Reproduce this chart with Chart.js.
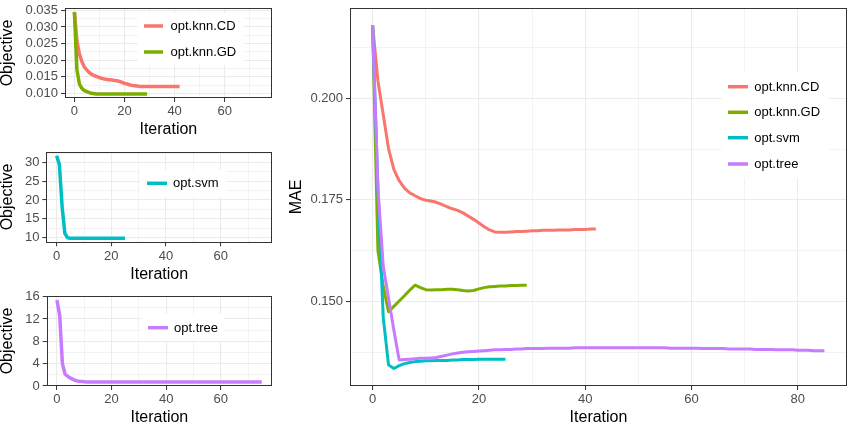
<!DOCTYPE html>
<html>
<head>
<meta charset="utf-8">
<script src="https://cdn.jsdelivr.net/npm/chart.js@4.4.1/dist/chart.umd.min.js"></script>
<style>
  body { margin: 0; width: 854px; height: 424px; overflow: hidden; background: #fff; position: relative; }
  canvas { position: absolute; }
</style>
</head>
<body>
<canvas id="knnObj" width="280" height="140" style="left:0;top:0"></canvas>
<canvas id="svmObj" width="280" height="145" style="left:0;top:140px"></canvas>
<canvas id="treeObj" width="280" height="143" style="left:0;top:285px"></canvas>
<canvas id="maeChart" width="570" height="428" style="left:284px;top:0"></canvas>
<script>
// series names + colours (ggplot default hues)
let names = ['opt.knn.CD', 'opt.knn.GD', 'opt.svm', 'opt.tree'];
let colors = ['#F8766D', '#7CAE00', '#00BFC4', '#C77CFF'];

// objective per iteration (left panels), index = iteration
let knnCDObj = [0.0345, 0.0258, 0.0218, 0.0195, 0.0179, 0.0170, 0.0162, 0.0157, 0.0153, 0.0150,
    0.0147, 0.0145, 0.0143, 0.0142, 0.0141, 0.0140, 0.0139, 0.0138, 0.0136, 0.0133,
    0.0130, 0.0128, 0.0126, 0.0124, 0.0123, 0.0122, 0.0121, 0.0121, 0.0121, 0.0121,
    0.0121, 0.0121, 0.0121, 0.0121, 0.0121, 0.0121, 0.0121, 0.0121, 0.0121, 0.0121,
    0.0121, 0.0121, 0.0121];
let knnGDObj = [0.0345, 0.0172, 0.0128, 0.0115, 0.0108, 0.0105, 0.0102, 0.0100, 0.0099, 0.0098,
    0.0098, 0.0098, 0.0098, 0.0098, 0.0098, 0.0098, 0.0098, 0.0098, 0.0098, 0.0098,
    0.0098, 0.0098, 0.0098, 0.0098, 0.0098, 0.0098, 0.0098, 0.0098, 0.0098, 0.0098];
let svmObj = [31.8, 29.4, 18.2, 11.1, 9.9, 9.8, 9.75, 9.75, 9.75, 9.75,
    9.75, 9.75, 9.75, 9.75, 9.75, 9.75, 9.75, 9.75, 9.75, 9.75,
    9.75, 9.75, 9.75, 9.75, 9.75, 9.75];
let treeObj = [15.4, 12.7, 4.0, 2.1, 1.7, 1.4, 1.15, 0.95, 0.85, 0.8,
    0.75, 0.72, 0.72, 0.72, 0.72, 0.72, 0.72, 0.72, 0.72, 0.72,
    0.72, 0.72, 0.72, 0.72, 0.72, 0.72, 0.72, 0.72, 0.72, 0.72,
    0.72, 0.72, 0.72, 0.72, 0.72, 0.72, 0.72, 0.72, 0.72, 0.72,
    0.72, 0.72, 0.72, 0.72, 0.72, 0.72, 0.72, 0.72, 0.72, 0.72,
    0.72, 0.72, 0.72, 0.72, 0.72, 0.72, 0.72, 0.72, 0.72, 0.72,
    0.72, 0.72, 0.72, 0.72, 0.72, 0.72, 0.72, 0.72, 0.72, 0.72,
    0.72, 0.72, 0.72, 0.72, 0.72, 0.72];

// MAE per iteration (right panel)
let knnCDMae = [0.2180, 0.2043, 0.1960, 0.1876, 0.1825, 0.1797, 0.1779, 0.1767, 0.1760, 0.1753,
    0.1749, 0.1747, 0.1744, 0.1739, 0.1733, 0.1728, 0.1724, 0.1718, 0.1710, 0.1702,
    0.1693, 0.1684, 0.1676, 0.1671, 0.1670, 0.1670, 0.1671, 0.1672, 0.1672, 0.1673,
    0.1674, 0.1674, 0.1675, 0.1675, 0.1675, 0.1676, 0.1676, 0.1676, 0.1677, 0.1677,
    0.1677, 0.1678, 0.1678];
let knnGDMae = [0.2180, 0.1626, 0.1537, 0.1475, 0.1488, 0.1501, 0.1514, 0.1528, 0.1540, 0.1534,
    0.1529, 0.1528, 0.1529, 0.1529, 0.1530, 0.1530, 0.1529, 0.1527, 0.1526, 0.1527,
    0.1531, 0.1534, 0.1536, 0.1537, 0.1538, 0.1538, 0.1539, 0.1539, 0.1540, 0.1540];
let svmMae = [0.2180, 0.1780, 0.1461, 0.1344, 0.1335, 0.1342, 0.1347, 0.1350, 0.1352, 0.1353,
    0.1354, 0.1354, 0.1355, 0.1355, 0.1355, 0.1356, 0.1356, 0.1357, 0.1357, 0.1357,
    0.1358, 0.1358, 0.1358, 0.1358, 0.1358, 0.1358];
let treeMae = [0.2180, 0.1780, 0.1587, 0.1508, 0.1430, 0.1356, 0.1357, 0.1358, 0.1359, 0.1360,
    0.1360, 0.1361, 0.1362, 0.1365, 0.1368, 0.1371, 0.1373, 0.1375, 0.1376, 0.1377,
    0.1378, 0.1379, 0.1380, 0.1381, 0.1381, 0.1382, 0.1382, 0.1383, 0.1383, 0.1384,
    0.1384, 0.1384, 0.1384, 0.1385, 0.1385, 0.1385, 0.1385, 0.1385, 0.1386, 0.1386,
    0.1386, 0.1386, 0.1386, 0.1386, 0.1386, 0.1386, 0.1386, 0.1386, 0.1386, 0.1386,
    0.1386, 0.1386, 0.1386, 0.1386, 0.1386, 0.1386, 0.1385, 0.1385, 0.1385, 0.1385,
    0.1385, 0.1385, 0.1384, 0.1384, 0.1384, 0.1384, 0.1384, 0.1383, 0.1383, 0.1383,
    0.1383, 0.1383, 0.1382, 0.1382, 0.1382, 0.1382, 0.1381, 0.1381, 0.1381, 0.1381,
    0.1380, 0.1380, 0.1380, 0.1379, 0.1379, 0.1379];

// tick values (major = labelled, minor = grid only)
let smallXMajor = [0, 20, 40, 60];
let bigXMajor = [0, 20, 40, 60, 80];
let xMinor = [10, 30, 50, 70];
let knnYMajor = [0.010, 0.015, 0.020, 0.025, 0.030, 0.035];
let knnYMinor = [0.0125, 0.0175, 0.0225, 0.0275, 0.0325];
let svmYMajor = [10, 15, 20, 25, 30];
let svmYMinor = [12.5, 17.5, 22.5, 27.5, 32.5];
let treeYMajor = [0, 4, 8, 12, 16];
let treeYMinor = [2, 6, 10, 14];
let maeYMajor = [0.150, 0.175, 0.200];
let maeYMinor = [0.1375, 0.1625, 0.1875, 0.2125];

const family = '"Liberation Sans", Arial, sans-serif';

function tickList(majors, minors) {
    let t = majors.map(v => ({value: v}));
    minors.forEach(v => t.push({value: v, minor: true}));
    t.sort((a, b) => a.value - b.value);
    return t;
}

function makeScale(o) {
    return {
        type: 'linear',
        min: o.min,
        max: o.max,
        afterBuildTicks: a => { a.ticks = tickList(o.majors, o.minors); },
        afterFit: a => {
            if (o.isY) a.width = o.size; else a.height = o.size;
            a.paddingTop = a.paddingBottom = a.paddingLeft = a.paddingRight = 0;
        },
        grid: {
            color: '#ebebeb',
            lineWidth: c => (c.tick && c.tick.minor) ? 0.6 : 1.1,
            drawTicks: true,
            tickLength: 4,
            tickWidth: 1,
            tickColor: c => (c.tick && c.tick.minor) ? 'rgba(0,0,0,0)' : '#333333'
        },
        border: {display: false},
        ticks: {
            autoSkip: false,
            maxRotation: 0,
            padding: o.isY ? 3 : 2,
            color: '#4d4d4d',
            font: {family: family, size: 13},
            callback: (v, i, t) => t[i].minor ? '' : o.fmt(v)
        },
        title: {
            display: true,
            text: o.title,
            color: '#000',
            font: {family: family, size: 16, lineHeight: o.isY ? 1 : 1.2},
            padding: o.isY ? {top: o.titlePad || 0, bottom: 0} : {top: 0, bottom: 1}
        }
    };
}

// panel border + legend drawn inside the panel
const panelPlugin = {
    id: 'panelBox',
    beforeDatasetsDraw(chart, args, opts) {
        let lg = opts.legend;
        let ctx = chart.ctx;
        ctx.save();
        ctx.fillStyle = '#ffffff';
        ctx.fillRect(lg.box[0], lg.box[1], lg.box[2], lg.box[3]);
        ctx.font = '13px ' + family;
        ctx.textBaseline = 'middle';
        ctx.textAlign = 'left';
        chart.data.datasets.forEach((ds, i) => {
            let y = lg.rows[i];
            ctx.strokeStyle = ds.borderColor;
            ctx.lineWidth = 3.5;
            ctx.beginPath();
            ctx.moveTo(lg.key[0], y);
            ctx.lineTo(lg.key[1], y);
            ctx.stroke();
            ctx.fillStyle = '#000';
            ctx.fillText(ds.label, lg.textX, y + 0.5);
        });
        ctx.restore();
    },
    afterDraw(chart) {
        let a = chart.chartArea;
        let ctx = chart.ctx;
        ctx.save();
        ctx.strokeStyle = '#333333';
        ctx.lineWidth = 1;
        ctx.strokeRect(Math.round(a.left) + 0.5, Math.round(a.top) + 0.5,
            Math.round(a.right - a.left) - 1, Math.round(a.bottom - a.top) - 1);
        ctx.restore();
    }
};

function series(vals, idx, width) {
    return {
        label: names[idx],
        data: vals.map((v, i) => ({x: i, y: v})),
        borderColor: colors[idx],
        borderWidth: width,
        order: 10 - idx
    };
}

function makeChart(id, datasets, pad, xScale, yScale, legend) {
    return new Chart(document.getElementById(id), {
        type: 'line',
        data: {datasets: datasets},
        options: {
            responsive: false,
            animation: false,
            devicePixelRatio: 1,
            layout: {padding: {left: 0, bottom: 0, top: pad.top, right: pad.right}},
            elements: {point: {radius: 0}, line: {tension: 0, borderJoinStyle: 'round'}},
            plugins: {legend: {display: false}, tooltip: {enabled: false}, panelBox: {legend: legend}},
            scales: {x: xScale, y: yScale}
        },
        plugins: [panelPlugin]
    });
}

let fmt3 = v => v.toFixed(3);
let fmtInt = v => String(v);

// knn objective
makeChart('knnObj',
    [series(knnCDObj, 0, 3.5), series(knnGDObj, 1, 3.5)],
    {top: 8, right: 8.3},
    makeScale({min: -3.75, max: 78.75, majors: smallXMajor, minors: xMinor, fmt: fmtInt, title: 'Iteration', size: 42}),
    makeScale({isY: true, min: 0.0086, max: 0.0357, majors: knnYMajor, minors: knnYMinor, fmt: fmt3, title: 'Objective', size: 65}),
    {box: [138, 13, 106, 52], key: [144, 163], textX: 170.5, rows: [26, 52]}
);

// svm objective
makeChart('svmObj',
    [series(svmObj, 2, 3.5)],
    {top: 11.7, right: 8},
    makeScale({min: -3.75, max: 78.75, majors: smallXMajor, minors: xMinor, fmt: fmtInt, title: 'Iteration', size: 42.7}),
    makeScale({isY: true, min: 8.7, max: 32.9, majors: svmYMajor, minors: svmYMinor, fmt: fmtInt, title: 'Objective', size: 46.4}),
    {box: [140, 30, 86, 27], key: [147, 167], textX: 173, rows: [43.3]}
);

// tree objective
makeChart('treeObj',
    [series(treeObj, 3, 3.5)],
    {top: 11, right: 8},
    makeScale({min: -3.75, max: 78.75, majors: smallXMajor, minors: xMinor, fmt: fmtInt, title: 'Iteration', size: 42}),
    makeScale({isY: true, min: -0.01, max: 16.13, majors: treeYMajor, minors: treeYMinor, fmt: fmtInt, title: 'Objective', size: 46.7}),
    {box: [141, 29, 83, 27], key: [148, 168], textX: 174, rows: [42.7]}
);

// MAE, all four
makeChart('maeChart',
    [series(knnCDMae, 0, 3), series(knnGDMae, 1, 3), series(svmMae, 2, 3), series(treeMae, 3, 3)],
    {top: 8, right: 7},
    makeScale({min: -4.25, max: 89.25, majors: bigXMajor, minors: xMinor, fmt: fmtInt, title: 'Iteration', size: 42}),
    makeScale({isY: true, min: 0.1292, max: 0.2222, majors: maeYMajor, minors: maeYMinor, fmt: fmt3, title: 'MAE', size: 66, titlePad: 4.7}),
    {box: [438, 73, 107, 105], key: [444, 464], textX: 470.3, rows: [86.7, 112.3, 137.7, 164]}
);
</script>
</body>
</html>
